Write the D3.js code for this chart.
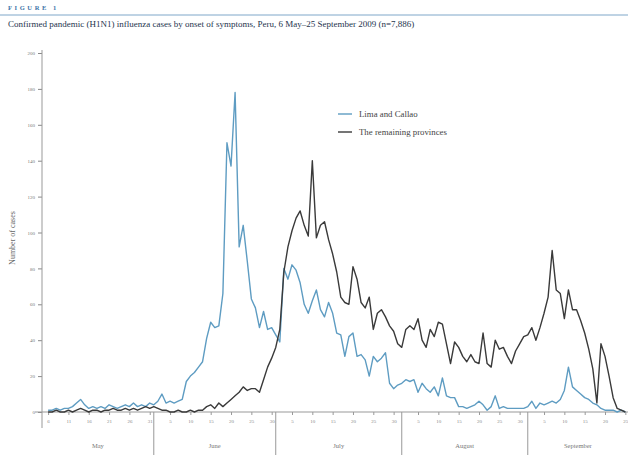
<!DOCTYPE html>
<html>
<head>
<meta charset="utf-8">
<script src="https://cdn.jsdelivr.net/npm/d3@7"></script>
<style>
  html, body { margin: 0; padding: 0; background: #fff; }
  svg { display: block; }
</style>
</head>
<body>
<svg id="chart" width="628" height="458"></svg>
<script>
// Daily confirmed cases by onset of symptoms, 6 May (day 0) to 25 September 2009 (day 142)
const startDate = new Date(2009, 4, 6);

const limaCallao = [
  1, 1, 2, 1, 2, 2, 3, 5, 7, 4,
  2, 3, 2, 3, 2, 4, 3, 2, 3, 4,
  3, 5, 3, 4, 3, 5, 4, 6, 10, 5,
  6, 5, 6, 7, 17, 20, 22, 25, 28, 41,
  50, 47, 48, 66, 150, 137, 178, 92, 104, 84,
  63, 58, 47, 56, 46, 47, 43, 39, 80, 74,
  82, 79, 72, 60, 55, 62, 68, 57, 53, 61,
  55, 44, 43, 31, 42, 44, 31, 32, 29, 20,
  31, 28, 30, 33, 16, 13, 15, 16, 18, 17,
  18, 11, 16, 13, 11, 14, 9, 19, 9, 8,
  8, 3, 3, 2, 3, 4, 6, 4, 1, 3,
  9, 2, 3, 2, 2, 2, 2, 2, 3, 6,
  2, 5, 4, 5, 6, 5, 7, 12, 25, 14,
  12, 10, 8, 7, 5, 4, 2, 1, 1, 1,
  0, 1, 0
];

const remainingProvinces = [
  0, 0, 1, 0, 0, 1, 0, 1, 2, 1,
  0, 1, 1, 0, 1, 1, 2, 1, 1, 2,
  1, 2, 1, 2, 3, 2, 3, 2, 1, 1,
  0, 0, 1, 0, 0, 1, 0, 1, 1, 3,
  4, 2, 5, 3, 5, 7, 9, 11, 14, 12,
  13, 13, 11, 18, 25, 30, 36, 46, 78, 92,
  101, 108, 112, 104, 98, 140, 97, 104, 106, 96,
  88, 78, 64, 61, 60, 81, 74, 61, 58, 64,
  46, 55, 57, 53, 48, 45, 38, 36, 46, 48,
  46, 52, 40, 36, 46, 42, 50, 49, 38, 27,
  39, 36, 31, 28, 32, 28, 27, 44, 27, 25,
  40, 35, 36, 31, 27, 34, 38, 42, 43, 47,
  40, 47, 55, 64, 90, 68, 66, 52, 68, 57,
  57, 51, 44, 35, 24, 5, 38, 31, 20, 8,
  2, 1, 0
];

const yTicks = [0, 20, 40, 60, 80, 100, 120, 140, 160, 180, 200];

// Day-of-month tick labels along the time axis
const tickDates = [
  [4, 6], [4, 11], [4, 16], [4, 21], [4, 26], [4, 31],
  [5, 5], [5, 10], [5, 15], [5, 20], [5, 25], [5, 30],
  [6, 5], [6, 10], [6, 15], [6, 20], [6, 25], [6, 30],
  [7, 5], [7, 10], [7, 15], [7, 20], [7, 25], [7, 30],
  [8, 5], [8, 10], [8, 15], [8, 20], [8, 25]
];

const months = ["May", "June", "July", "August", "September"];
const monthStarts = [[4, 6], [5, 1], [6, 1], [7, 1], [8, 1]];

const seriesNames = ["Lima and Callao", "The remaining provinces"];
const seriesColors = ["#5e9cc2", "#3a3a3a"];

const dayIndex = (m, d) => Math.round((new Date(2009, m, d) - startDate) / 864e5);

const svg = d3.select("#chart");
const serif = "'Liberation Serif', 'DejaVu Serif', serif";

const plotLeft = 42, plotBottom = 412, plotTop = 53;

const x = d3.scaleLinear().domain([-1.5, 143]).range([plotLeft, 629.4]);
const y = d3.scaleLinear().domain([0, 200]).range([plotBottom, plotTop]);

// Header
svg.append("text")
  .attr("x", 8).attr("y", 10)
  .attr("font-family", serif)
  .attr("font-size", 6.5)
  .attr("letter-spacing", 2.6)
  .attr("font-weight", "bold")
  .attr("fill", "#3d74a8")
  .text("FIGURE 1");

svg.append("line")
  .attr("x1", 0).attr("x2", 628)
  .attr("y1", 15).attr("y2", 15)
  .attr("stroke", "#7fa7c9").attr("stroke-width", 1);

svg.append("text")
  .attr("x", 8).attr("y", 27)
  .attr("font-family", serif)
  .attr("font-size", 9)
  .attr("fill", "#25344d")
  .text("Confirmed pandemic (H1N1) influenza cases by onset of symptoms, Peru, 6 May–25 September 2009 (n=7,886)");

// Y axis
const yAxis = d3.axisLeft(y).tickValues(yTicks).tickSize(4).tickPadding(3);
const gy = svg.append("g")
  .attr("transform", `translate(${plotLeft},0)`)
  .call(yAxis);
gy.select(".domain").remove();
gy.selectAll(".tick line").attr("stroke", "#888");
gy.selectAll(".tick text")
  .attr("font-family", serif)
  .attr("font-size", 5)
  .attr("fill", "#777");

svg.append("line")
  .attr("x1", plotLeft).attr("x2", plotLeft)
  .attr("y1", 50).attr("y2", 428)
  .attr("stroke", "#999").attr("stroke-width", 1);

svg.append("text")
  .attr("transform", `translate(15,238) rotate(-90)`)
  .attr("text-anchor", "middle")
  .attr("font-family", serif)
  .attr("font-size", 8)
  .attr("fill", "#666")
  .text("Number of cases");

// X axis
const tickDays = tickDates.map(([m, d]) => dayIndex(m, d));
const xAxis = d3.axisBottom(x)
  .tickValues(tickDays)
  .tickFormat((v, i) => tickDates[i][1])
  .tickSize(3).tickPadding(4);
const gx = svg.append("g")
  .attr("transform", `translate(0,${plotBottom})`)
  .call(xAxis);
gx.select(".domain").remove();
gx.selectAll(".tick line").attr("stroke", "#999");
gx.selectAll(".tick text")
  .attr("font-family", serif)
  .attr("font-size", 5)
  .attr("fill", "#888");

svg.append("line")
  .attr("x1", 35).attr("x2", 628)
  .attr("y1", plotBottom).attr("y2", plotBottom)
  .attr("stroke", "#999").attr("stroke-width", 1);

// Month separators and names
const sepDays = monthStarts.slice(1).map(([m, d]) => dayIndex(m, d));
svg.selectAll("line.sep")
  .data(sepDays)
  .join("line")
  .attr("class", "sep")
  .attr("x1", d => x(d)).attr("x2", d => x(d))
  .attr("y1", plotBottom).attr("y2", 455)
  .attr("stroke", "#999").attr("stroke-width", 1);

const bounds = [x(-1.5), ...sepDays.map(d => x(d)), 628];
svg.selectAll("text.month")
  .data(months)
  .join("text")
  .attr("class", "month")
  .attr("x", (d, i) => (bounds[i] + bounds[i + 1]) / 2)
  .attr("y", 448)
  .attr("text-anchor", "middle")
  .attr("font-family", serif)
  .attr("font-size", 6.5)
  .attr("fill", "#777")
  .text(d => d);

// Series lines
const line = d3.line()
  .x((d, i) => x(i))
  .y(d => y(d));

[limaCallao, remainingProvinces].forEach((series, k) => {
  svg.append("path")
    .datum(series)
    .attr("fill", "none")
    .attr("stroke", seriesColors[k])
    .attr("stroke-width", 1.4)
    .attr("stroke-linejoin", "round")
    .attr("d", line);
});

// Legend
const legend = svg.append("g").attr("transform", "translate(338,114)");
seriesNames.forEach((name, k) => {
  const g = legend.append("g").attr("transform", `translate(0,${k * 18})`);
  g.append("line")
    .attr("x1", 0).attr("x2", 14)
    .attr("stroke", seriesColors[k]).attr("stroke-width", 1.4);
  g.append("text")
    .attr("x", 21).attr("y", 3)
    .attr("font-family", serif)
    .attr("font-size", 8.8)
    .attr("fill", "#444")
    .text(name);
});
</script>
</body>
</html>
